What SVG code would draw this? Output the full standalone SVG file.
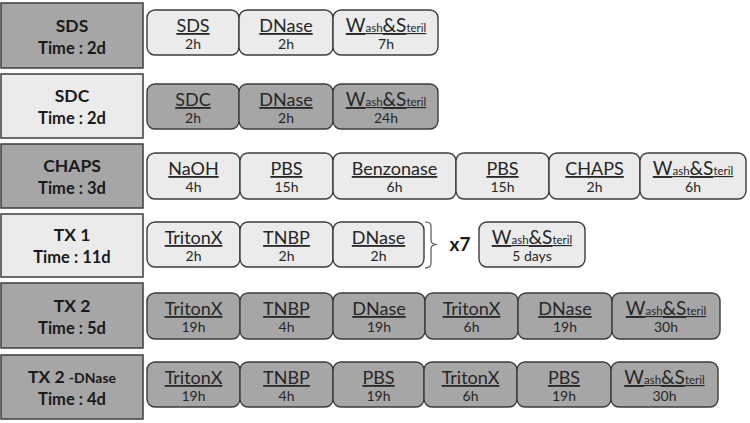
<svg xmlns="http://www.w3.org/2000/svg" width="750" height="423" viewBox="0 0 750 423">
<style>
.hd{stroke:#3c3c3c;stroke-width:1.5}
.st{stroke:#3c3c3c;stroke-width:1.4}
.dk{fill:#a6a6a6}
.lt{fill:#ebebeb}
.ht{font-family:Lato,"Open Sans",sans-serif;font-weight:bold;fill:#1a1a1a;text-anchor:middle}
.hn{font-size:17.5px}
.htm{font-size:16.5px}
.lb{font-family:Lato,"Open Sans",sans-serif;font-size:18px;fill:#262626;text-anchor:middle;text-decoration:underline}
.hr{font-family:Lato,"Open Sans",sans-serif;font-size:14px;fill:#262626;text-anchor:middle}
.sm{font-size:11.5px}
.bg{font-size:19px}
</style>
<rect width="750" height="423" fill="#ffffff"/>
<defs>
<g id="ws"><text class="lb" x="0" y="0"><tspan class="bg">W</tspan><tspan class="sm">ash</tspan><tspan class="bg">&amp;S</tspan><tspan class="sm">teril</tspan></text></g>
</defs>

<!-- Row 1 SDS -->
<g id="hdr-sds"><rect class="hd dk" x="1" y="3" width="142" height="65"/><text class="ht hn" x="72" y="32">SDS</text><text class="ht htm" x="72" y="54">Time : 2d</text></g>
<g id="sds-sds"><rect class="st lt" x="147" y="10" width="92" height="45" rx="8"/><text class="lb" x="193" y="32">SDS</text><text class="hr" x="193" y="49">2h</text></g>
<g id="sds-dnase"><rect class="st lt" x="239" y="10" width="94" height="45" rx="8"/><text class="lb" x="286" y="32">DNase</text><text class="hr" x="286" y="49">2h</text></g>
<g id="sds-wash"><rect class="st lt" x="333" y="10" width="105" height="45" rx="8"/><use href="#ws" x="386" y="32"/><text class="hr" x="386" y="49">7h</text></g>

<!-- Row 2 SDC -->
<g id="hdr-sdc"><rect class="hd lt" x="1" y="74" width="142" height="64"/><text class="ht hn" x="72" y="102">SDC</text><text class="ht htm" x="72" y="124">Time : 2d</text></g>
<g id="sdc-sdc"><rect class="st dk" x="147" y="84" width="92" height="45" rx="8"/><text class="lb" x="193" y="106">SDC</text><text class="hr" x="193" y="123">2h</text></g>
<g id="sdc-dnase"><rect class="st dk" x="239" y="84" width="94" height="45" rx="8"/><text class="lb" x="286" y="106">DNase</text><text class="hr" x="286" y="123">2h</text></g>
<g id="sdc-wash"><rect class="st dk" x="333" y="84" width="105" height="45" rx="8"/><use href="#ws" x="386" y="106"/><text class="hr" x="386" y="123">24h</text></g>

<!-- Row 3 CHAPS -->
<g id="hdr-chaps"><rect class="hd dk" x="1" y="144" width="142" height="64"/><text class="ht hn" x="72" y="172">CHAPS</text><text class="ht htm" x="72" y="194">Time : 3d</text></g>
<g id="chaps-naoh"><rect class="st lt" x="147" y="153" width="93" height="46" rx="8"/><text class="lb" x="193.5" y="175">NaOH</text><text class="hr" x="193.5" y="192">4h</text></g>
<g id="chaps-pbs1"><rect class="st lt" x="240" y="153" width="93" height="46" rx="8"/><text class="lb" x="286.5" y="175">PBS</text><text class="hr" x="286.5" y="192">15h</text></g>
<g id="chaps-benz"><rect class="st lt" x="333" y="153" width="123" height="46" rx="8"/><text class="lb" x="394.5" y="175">Benzonase</text><text class="hr" x="394.5" y="192">6h</text></g>
<g id="chaps-pbs2"><rect class="st lt" x="456" y="153" width="93" height="46" rx="8"/><text class="lb" x="502.5" y="175">PBS</text><text class="hr" x="502.5" y="192">15h</text></g>
<g id="chaps-chaps"><rect class="st lt" x="549" y="153" width="91" height="46" rx="8"/><text class="lb" x="594.5" y="175">CHAPS</text><text class="hr" x="594.5" y="192">2h</text></g>
<g id="chaps-wash"><rect class="st lt" x="640" y="153" width="106" height="46" rx="8"/><use href="#ws" x="693" y="175"/><text class="hr" x="693" y="192">6h</text></g>

<!-- Row 4 TX 1 -->
<g id="hdr-tx1"><rect class="hd lt" x="1" y="214" width="142" height="63"/><text class="ht hn" x="72" y="241">TX 1</text><text class="ht htm" x="72" y="263">Time : 11d</text></g>
<g id="tx1-triton"><rect class="st lt" x="147" y="222" width="93" height="45" rx="8"/><text class="lb" x="193.5" y="244">TritonX</text><text class="hr" x="193.5" y="261">2h</text></g>
<g id="tx1-tnbp"><rect class="st lt" x="240" y="222" width="93" height="45" rx="8"/><text class="lb" x="286.5" y="244">TNBP</text><text class="hr" x="286.5" y="261">2h</text></g>
<g id="tx1-dnase"><rect class="st lt" x="333" y="222" width="91" height="45" rx="8"/><text class="lb" x="378.5" y="244">DNase</text><text class="hr" x="378.5" y="261">2h</text></g>
<g id="tx1-repeat"><path d="M425,222 Q431,222 431,226 L431,240 Q431,244.5 437,244.5 Q431,244.5 431,249 L431,263 Q431,268 425,268" fill="none" stroke="#555" stroke-width="1.2"/><text x="460" y="251" font-family="Lato,'Open Sans',sans-serif" font-weight="bold" font-size="19" fill="#1a1a1a" text-anchor="middle">x7</text></g>
<g id="tx1-wash"><rect class="st lt" x="479" y="222" width="106" height="45" rx="8"/><use href="#ws" x="532" y="244"/><text class="hr" x="532" y="261">5 days</text></g>

<!-- Row 5 TX 2 -->
<g id="hdr-tx2"><rect class="hd dk" x="1" y="283" width="142" height="65"/><text class="ht hn" x="72" y="312">TX 2</text><text class="ht htm" x="72" y="334">Time : 5d</text></g>
<g id="tx2-triton1"><rect class="st dk" x="147" y="293" width="93" height="46" rx="8"/><text class="lb" x="193.5" y="315">TritonX</text><text class="hr" x="193.5" y="332">19h</text></g>
<g id="tx2-tnbp"><rect class="st dk" x="240" y="293" width="93" height="46" rx="8"/><text class="lb" x="286.5" y="315">TNBP</text><text class="hr" x="286.5" y="332">4h</text></g>
<g id="tx2-dnase1"><rect class="st dk" x="333" y="293" width="92" height="46" rx="8"/><text class="lb" x="379" y="315">DNase</text><text class="hr" x="379" y="332">19h</text></g>
<g id="tx2-triton2"><rect class="st dk" x="425" y="293" width="93" height="46" rx="8"/><text class="lb" x="471.5" y="315">TritonX</text><text class="hr" x="471.5" y="332">6h</text></g>
<g id="tx2-dnase2"><rect class="st dk" x="518" y="293" width="94" height="46" rx="8"/><text class="lb" x="565" y="315">DNase</text><text class="hr" x="565" y="332">19h</text></g>
<g id="tx2-wash"><rect class="st dk" x="612" y="293" width="108" height="46" rx="8"/><use href="#ws" x="666" y="315"/><text class="hr" x="666" y="332">30h</text></g>

<!-- Row 6 TX 2 -DNase -->
<g id="hdr-tx2d"><rect class="hd dk" x="1" y="355" width="142" height="64"/><text class="ht hn" x="72" y="383">TX 2 <tspan font-size="14">-DNase</tspan></text><text class="ht htm" x="72" y="405">Time : 4d</text></g>
<g id="tx2d-triton1"><rect class="st dk" x="147" y="362" width="93" height="45" rx="8"/><text class="lb" x="193.5" y="384">TritonX</text><text class="hr" x="193.5" y="401">19h</text></g>
<g id="tx2d-tnbp"><rect class="st dk" x="240" y="362" width="93" height="45" rx="8"/><text class="lb" x="286.5" y="384">TNBP</text><text class="hr" x="286.5" y="401">4h</text></g>
<g id="tx2d-pbs1"><rect class="st dk" x="333" y="362" width="91" height="45" rx="8"/><text class="lb" x="378.5" y="384">PBS</text><text class="hr" x="378.5" y="401">19h</text></g>
<g id="tx2d-triton2"><rect class="st dk" x="424" y="362" width="93" height="45" rx="8"/><text class="lb" x="470.5" y="384">TritonX</text><text class="hr" x="470.5" y="401">6h</text></g>
<g id="tx2d-pbs2"><rect class="st dk" x="517" y="362" width="94" height="45" rx="8"/><text class="lb" x="564" y="384">PBS</text><text class="hr" x="564" y="401">19h</text></g>
<g id="tx2d-wash"><rect class="st dk" x="611" y="362" width="107" height="45" rx="8"/><use href="#ws" x="664.5" y="384"/><text class="hr" x="664.5" y="401">30h</text></g>

<g id="connectors"></g>
</svg>
